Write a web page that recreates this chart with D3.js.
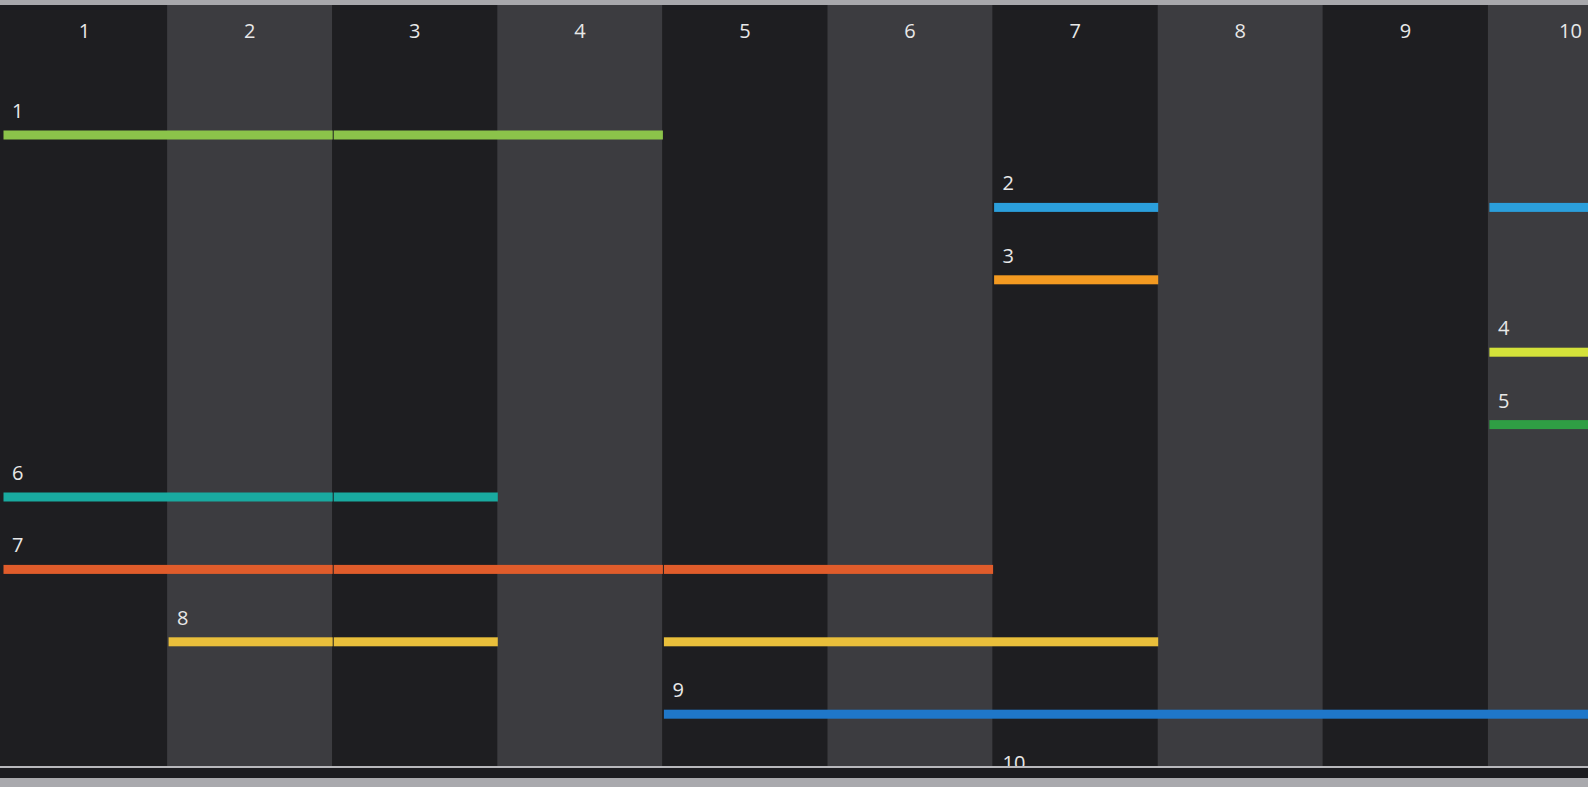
<!DOCTYPE html>
<html>
<head>
<meta charset="utf-8">
<script src="https://cdn.jsdelivr.net/npm/d3@7"></script>
<style>
  html, body { margin: 0; padding: 0; background: #1e1e21; overflow: hidden; }
  svg { display: block; }
</style>
</head>
<body>
<svg id="chart"></svg>
<script>
// columns (days) and rows (tracks)
var columns = [1, 2, 3, 4, 5, 6, 7, 8, 9, 10];
var rows = [1, 2, 3, 4, 5, 6, 7, 8, 9, 10];
var rowColors = ["#8bc34a", "#2b9fdc", "#f39a21", "#d4e23a", "#2f9e44",
                 "#19aaa0", "#e05c2b", "#e9bf3b", "#1f77c9", "#9c5fc4"];

// segments: [row, first column, last column]
var segments = [
  [1, 1, 2], [1, 3, 4],
  [2, 7, 7], [2, 10, 10],
  [3, 7, 7],
  [4, 10, 10],
  [5, 10, 10],
  [6, 1, 2], [6, 3, 3],
  [7, 1, 2], [7, 3, 4], [7, 5, 6],
  [8, 2, 2], [8, 3, 3], [8, 5, 7],
  [9, 5, 10],
  [10, 7, 8]
];

var width = 1588, height = 787;
var areaTop = 5, areaBottom = 766;

var svg = d3.select("#chart").attr("width", width).attr("height", height);

var x = d3.scaleBand().domain(columns).range([2, 2 + 165.1 * columns.length]).padding(0);
var y = d3.scaleLinear().domain([1, 10]).range([135, 786.6]);

svg.append("defs").append("clipPath").attr("id", "area")
  .append("rect").attr("x", 0).attr("y", areaTop).attr("width", width).attr("height", areaBottom - areaTop);

var g = svg.append("g").attr("clip-path", "url(#area)");

g.append("rect").attr("x", 0).attr("y", areaTop).attr("width", width).attr("height", areaBottom - areaTop)
  .attr("fill", "#1e1e21");

g.selectAll(".col")
  .data(columns)
  .enter().append("rect")
    .attr("class", "col")
    .attr("x", function(d) { return x(d); })
    .attr("y", areaTop)
    .attr("width", x.bandwidth())
    .attr("height", areaBottom - areaTop)
    .attr("fill", function(d, i) { return i % 2 ? "#3c3c40" : "#1e1e21"; });

g.selectAll(".head")
  .data(columns)
  .enter().append("text")
    .attr("class", "head")
    .attr("x", function(d) { return x(d) + x.bandwidth() / 2; })
    .attr("y", 38)
    .attr("text-anchor", "middle")
    .attr("fill", "#e8e8e8")
    .style("font", "20px 'Open Sans', sans-serif")
    .text(function(d) { return d; });

g.selectAll(".seg")
  .data(segments)
  .enter().append("rect")
    .attr("class", "seg")
    .attr("x", function(d) { return x(d[1]) + 1.5; })
    .attr("y", function(d) { return y(d[0]) - 4.5; })
    .attr("width", function(d) { return x(d[2]) + x.bandwidth() - x(d[1]) - 1; })
    .attr("height", 9)
    .attr("fill", function(d) { return rowColors[d[0] - 1]; });

// label only at first segment of each row
var firsts = rows.map(function(r) {
  return segments.filter(function(s) { return s[0] === r; })
    .sort(function(a, b) { return a[1] - b[1]; })[0];
}).filter(Boolean);

g.selectAll(".lab")
  .data(firsts)
  .enter().append("text")
    .attr("class", "lab")
    .attr("x", function(d) { return x(d[1]) + 10; })
    .attr("y", function(d) { return y(d[0]) - 17; })
    .attr("fill", "#e8e8e8")
    .style("font", "20px 'Open Sans', sans-serif")
    .text(function(d) { return d[0]; });

// frame bars
svg.append("rect").attr("x", 0).attr("y", 0).attr("width", width).attr("height", areaTop).attr("fill", "#a8a8ac");
svg.append("rect").attr("x", 0).attr("y", areaBottom).attr("width", width).attr("height", 2).attr("fill", "#b8b8bc");
svg.append("rect").attr("x", 0).attr("y", areaBottom + 2).attr("width", width).attr("height", 10).attr("fill", "#1c1c20");
svg.append("rect").attr("x", 0).attr("y", areaBottom + 12).attr("width", width).attr("height", height - areaBottom - 12).attr("fill", "#a9a9ad");
</script>
</body>
</html>
